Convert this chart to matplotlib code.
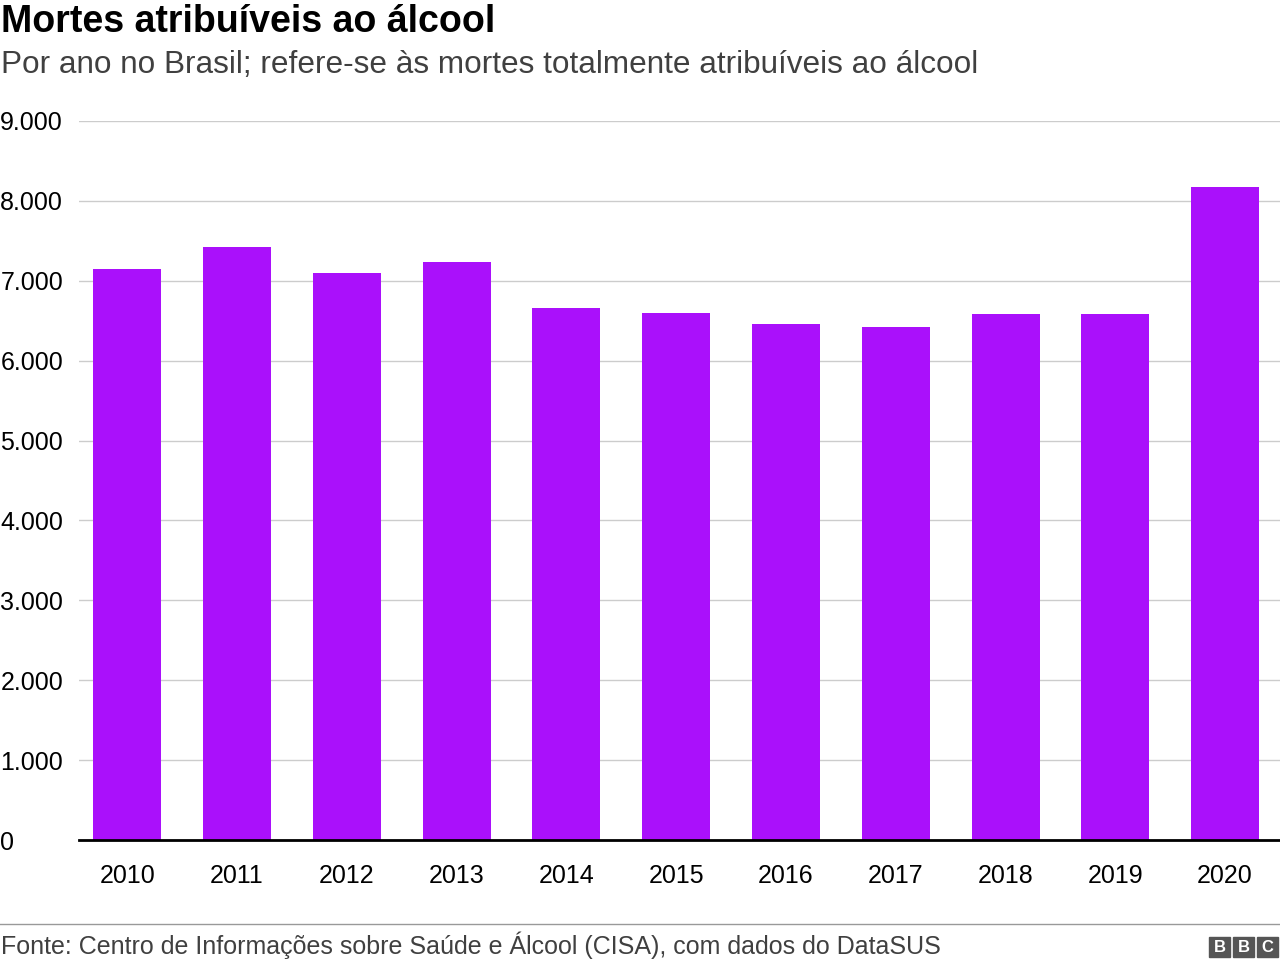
import matplotlib
matplotlib.use("Agg")
import matplotlib.pyplot as plt
from matplotlib.patches import Rectangle
from matplotlib.lines import Line2D

years = ["2010","2011","2012","2013","2014","2015","2016","2017","2018","2019","2020"]
deaths = [7150, 7420, 7100, 7235, 6660, 6600, 6460, 6420, 6585, 6585, 8175]
yticks = [0,1000,2000,3000,4000,5000,6000,7000,8000,9000]
ylabels = ["0","1.000","2.000","3.000","4.000","5.000","6.000","7.000","8.000","9.000"]

plt.rcParams['font.family'] = ['Liberation Sans', 'DejaVu Sans']
fig = plt.figure(figsize=(12.8, 9.67), dpi=100)
ax = fig.add_axes([79/1280, 1-840/967, 1-79/1280, (840-121)/967])
x = range(len(years))
ax.bar(x, deaths, width=0.62, color="#aa10fb", zorder=2)
ax.set_xlim(-0.44, 10.5)
ax.set_ylim(0, 9000)
ax.set_yticks(yticks)
ax.set_yticklabels(ylabels, fontsize=18)
ax.set_xticks(list(x))
ax.set_xticklabels(years, fontsize=18)
ax.grid(axis='y', color="#cccccc", lw=1, zorder=0)
for s in ["top","right","left"]:
    ax.spines[s].set_visible(False)
ax.spines["bottom"].set_linewidth(2)
ax.tick_params(axis='y', length=0, pad=0)
ax.tick_params(axis='x', length=0, pad=17)
for l in ax.get_yticklabels():
    l.set_horizontalalignment('left')
    l.set_x(-0.0655)

fig.text(0.001, 1-22/967, "Mortes atribuíveis ao álcool", fontsize=27, fontweight='bold', va='center')
fig.text(0.001, 1-65/967, "Por ano no Brasil; refere-se às mortes totalmente atribuíveis ao álcool", fontsize=22.7, color="#404040", va='center')
fig.add_artist(Line2D([0, 1], [1-924/967]*2, color="#999999", lw=1))
fig.text(0.001, 1-945/967, "Fonte: Centro de Informações sobre Saúde e Álcool (CISA), com dados do DataSUS", fontsize=18, color="#404040", va='center')
for i, ch in enumerate("BBC"):
    x0 = 1209 + i*24
    fig.add_artist(Rectangle((x0/1280, 1-957/967), 21/1280, 20/967, color="#555555"))
    fig.text((x0+10.5)/1280, 1-947/967, ch, color="white", fontsize=12, fontweight='bold', ha='center', va='center')
fig.savefig("out.png", dpi=100)
